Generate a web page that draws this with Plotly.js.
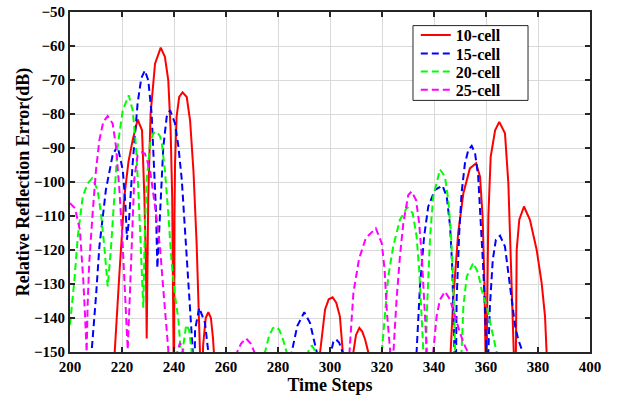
<!DOCTYPE html>
<html>
<head>
<meta charset="utf-8">
<script src="https://cdn.plot.ly/plotly-3.0.1.min.js"></script>
<style>html,body{margin:0;padding:0;background:#fff;}#chart{width:618px;height:400px;}</style>
</head>
<body>
<div id="chart"></div>
<script>
// Series names
var seriesNames = ['10-cell', '15-cell', '20-cell', '25-cell'];

// 10-cell (red)
var redX = [217.0,217.2,219.0,220.9,222.5,224.1,226.0,227.7,228.6,229.2,229.5,
  230.1,231.0,232.7,234.9,236.5,237.8,238.7,239.3,239.7,239.85,
  240.0,240.2,240.4,241.0,242.0,243.3,244.9,246.2,247.5,248.7,249.6,250.3,250.45,
  250.6,251.2,252.2,253.2,254.2,255.0,255.5,255.7,
  295.9,296.2,298.1,299.5,301.0,302.4,303.8,304.9,305.1,
  308.6,309.0,310.0,311.3,312.4,313.5,314.7,314.9,
  346.2,346.4,347.4,349.3,351.3,353.8,356.2,357.7,358.7,359.4,359.8,360.0,
  360.2,360.4,360.9,361.8,363.5,365.1,367.3,368.6,369.5,370.3,370.8,371.1,
  371.3,371.5,371.8,372.8,374.6,376.9,379.5,381.4,382.7,383.3,383.5];
var redY = [-160,-150,-127,-104.3,-94,-87.7,-81.6,-84.8,-104.3,-123.8,-146,
  -104.3,-79.9,-65.2,-60.5,-63.2,-70.1,-84.8,-104.3,-149,-165,
  -165,-110,-94.5,-80.8,-75,-73.6,-75,-82,-97,-118,-138,-155,-165,
  -165,-148,-140,-138.3,-140,-146,-152,-165,
  -165,-150,-137.5,-134.5,-133.9,-135.5,-139.5,-149.8,-165,
  -165,-150,-145,-142.9,-144,-146.3,-150,-165,
  -165,-150,-134.6,-115,-103.3,-96,-94.5,-98.4,-110.2,-129.7,-150,-165,
  -165,-140,-110.2,-92.6,-84.8,-82.3,-85.7,-100.4,-120,-139.5,-150,-165,
  -165,-150,-120,-111.1,-107.2,-111.1,-120,-129.7,-139.5,-150,-165];

// 15-cell (blue)
var blueX = [208.1,208.3,210.0,211.3,213.8,216.4,218.3,220.3,221.3,221.9,
  222.8,224.1,226.0,227.4,228.8,230.1,231.4,232.3,233.1,233.6,
  234.6,235.9,237.2,238.5,240.4,241.7,243.0,244.2,245.5,246.8,247.4,247.6,
  247.8,248.1,249.7,251.9,253.2,253.4,
  285.1,285.3,287.4,290.1,292.3,294.9,295.1,
  300.0,300.4,301.3,302.3,303.5,304.8,305.0,
  333.1,333.3,334.6,336.2,337.8,340.4,343.3,344.9,346.2,347.0,347.7,348.1,348.3,
  348.4,348.5,348.7,349.7,350.6,351.9,353.2,354.5,355.8,357.0,357.9,358.9,359.6,360.3,360.5,
  360.7,360.9,361.5,362.6,363.8,365.4,367.3,368.6,369.9,371.2,372.4,374.1,374.3];
var blueY = [-165,-150,-133.6,-119,-102.3,-92.1,-89.4,-96.5,-106.2,-117,
  -110.2,-94.5,-76.9,-69.5,-67.2,-70.1,-79.9,-94.5,-109.2,-125.3,
  -109.2,-89.6,-80.8,-78.9,-82.8,-89.6,-99.4,-114.1,-128.7,-143.4,-152,-165,
  -165,-143.4,-137,-141.4,-150,-165,
  -165,-150,-142.4,-138.3,-141.4,-150,-165,
  -165,-150,-147,-146.3,-147.2,-150,-165,
  -165,-150,-130.7,-116,-107.2,-102.3,-101.1,-104.3,-113.1,-124.8,-139.5,-150,-165,
  -165,-150,-134.6,-115,-103.3,-94.5,-90.6,-89.4,-91.6,-98.4,-110.2,-124.8,-136.6,-150,-165,
  -165,-150,-136.6,-122.9,-117,-115.8,-119,-126.8,-134.6,-142.4,-146.3,-150,-165];

// 20-cell (green)
var greenX = [200.0,201.7,203.0,204.9,206.8,208.5,210.6,211.9,213.2,214.5,
  215.8,217.1,218.3,220.3,222.6,224.1,225.4,226.4,227.3,228.2,
  228.8,229.5,230.8,232.0,233.3,234.6,235.3,236.5,237.8,239.1,240.4,241.7,242.6,242.9,
  243.2,243.6,244.7,245.8,246.8,247.0,
  274.8,275.0,276.5,278.0,279.2,280.5,282.0,283.3,283.5,
  291.3,291.6,292.4,293.1,293.8,294.3,294.5,
  319.7,319.9,321.2,322.4,324.3,326.9,329.7,331.8,333.3,334.3,335.3,335.9,336.1,
  336.7,336.9,337.4,338.5,339.7,342.3,344.2,345.5,346.5,347.4,348.1,348.5,348.7,
  350.4,350.6,351.3,352.6,355.1,357.0,358.3,360.3,362.2,364.1,364.3];
var greenY = [-142,-128.7,-116,-104.3,-100.4,-98.9,-102.3,-109.2,-119,-130.7,
  -119,-102.3,-89.6,-78.9,-74.5,-78.9,-89.6,-104.3,-119,-137,
  -114,-99.4,-88.6,-85.7,-85.2,-86.5,-88.6,-96.5,-109.2,-123.8,-133.6,-140.5,-150,-165,
  -165,-148,-142,-143.5,-150,-165,
  -165,-150,-145.5,-143,-142.6,-143.5,-146.5,-150,-165,
  -165,-150,-148.5,-148.2,-149,-150,-165,
  -165,-150,-138.5,-127.8,-119,-111.1,-107.4,-109.2,-116,-125.8,-140.5,-150,-165,
  -165,-150,-135.6,-116,-104.3,-96.3,-98.4,-105.3,-115,-129.7,-142.4,-150,-165,
  -165,-150,-136.6,-127.8,-123.8,-126.8,-131.7,-136.6,-143.4,-150,-165];

// 25-cell (magenta)
var magentaX = [200.0,201.9,203.8,204.5,205.1,205.8,206.2,206.4,
  206.8,207.4,208.7,210.0,211.3,212.8,214.5,216.4,217.7,219.0,220.3,221.3,222.2,
  223.5,224.7,226.0,227.5,228.8,230.8,232.7,234.6,235.9,236.9,237.8,238.0,
  241.1,241.3,242.3,243.3,243.5,
  264.1,264.3,265.8,267.7,269.5,270.9,271.1,
  307.2,307.5,309.0,311.2,313.8,317.6,319.9,321.0,321.9,323.1,323.3,
  324.2,324.4,325.6,326.9,328.2,330.1,331.4,333.1,334.3,335.3,336.2,337.2,337.4,
  339.5,339.7,341.0,342.3,344.2,346.2,348.1,350.0,351.9,353.0,353.2];
var magentaY = [-106.2,-107.7,-114.1,-121,-128.7,-139.5,-145.4,-150,
  -135.6,-123.8,-109.2,-96.5,-87.7,-82.3,-80.6,-82.8,-89.6,-102.3,-119,-133.6,-149.3,
  -123.8,-99.4,-92.1,-91.3,-91.6,-96.5,-107.2,-119,-131.7,-141.4,-149.3,-165,
  -165,-150,-147.3,-149,-165,
  -165,-150,-147.5,-146,-147.5,-150,-165,
  -165,-150,-132.6,-122.5,-116.5,-113.6,-118,-125.8,-138.5,-149.3,-165,
  -165,-150,-134.6,-121.9,-112.1,-103.8,-102.8,-105.3,-112.1,-121.9,-134.6,-149.3,-165,
  -165,-150,-139.5,-134.6,-132.2,-134.6,-139.5,-144.4,-148.3,-150,-165];

var xTickVals = [200,220,240,260,280,300,320,340,360,380,400];
var yTickVals = [-150,-140,-130,-120,-110,-100,-90,-80,-70,-60,-50];

var FONT = 'Liberation Serif, Times New Roman, serif';
var dashPat = '7px,4px';

var traces = [
  {x: redX, y: redY, name: seriesNames[0], mode: 'lines', legend: 'legend', line: {color: '#ff0000', width: 2}},
  {x: blueX, y: blueY, name: seriesNames[1], mode: 'lines', legend: 'legend2', line: {color: '#0000ff', width: 2, dash: dashPat}},
  {x: greenX, y: greenY, name: seriesNames[2], mode: 'lines', legend: 'legend3', line: {color: '#00ff00', width: 2, dash: dashPat}},
  {x: magentaX, y: magentaY, name: seriesNames[3], mode: 'lines', legend: 'legend4', line: {color: '#ff00ff', width: 2, dash: dashPat}}
];

var axisCommon = {
  showgrid: true, gridcolor: '#d9d9d9', gridwidth: 1,
  showline: true, linecolor: '#262626', linewidth: 2, mirror: 'ticks',
  ticks: 'inside', ticklen: 5, tickwidth: 2, tickcolor: '#262626',
  zeroline: false,
  tickfont: {family: FONT, size: 15, color: '#000', weight: 'bold'}
};

function legendAt(yPaper) {
  return {
    x: 0.665, y: yPaper, xanchor: 'left', yanchor: 'middle',
    bgcolor: 'rgba(0,0,0,0)', borderwidth: 0,
    font: {family: FONT, size: 16, color: '#000', weight: 'bold'}
  };
}

var layout = {
  width: 618, height: 400,
  margin: {l: 70, r: 28, t: 12, b: 48},
  paper_bgcolor: '#fff', plot_bgcolor: '#fff',
  font: {family: FONT, color: '#000'},
  showlegend: true,
  xaxis: Object.assign({}, axisCommon, {
    range: [200, 400], tickvals: xTickVals,
    title: {text: 'Time Steps', font: {family: FONT, size: 18, color: '#000', weight: 'bold'}, standoff: 2}
  }),
  yaxis: Object.assign({}, axisCommon, {
    range: [-150, -50], tickvals: yTickVals,
    title: {text: 'Relative Reflection Error(dB)', font: {family: FONT, size: 18, color: '#000', weight: 'bold'}, standoff: 0}
  }),
  legend: legendAt(0.932),
  legend2: legendAt(0.878),
  legend3: legendAt(0.825),
  legend4: legendAt(0.771),
  shapes: [{
    type: 'rect', xref: 'paper', yref: 'paper',
    x0: 0.6596, x1: 0.8808, y0: 0.740, y1: 0.960,
    line: {color: '#262626', width: 1}, fillcolor: '#ffffff', layer: 'above'
  }]
};

Plotly.newPlot('chart', traces, layout, {displayModeBar: false, staticPlot: true});
</script>
</body>
</html>
